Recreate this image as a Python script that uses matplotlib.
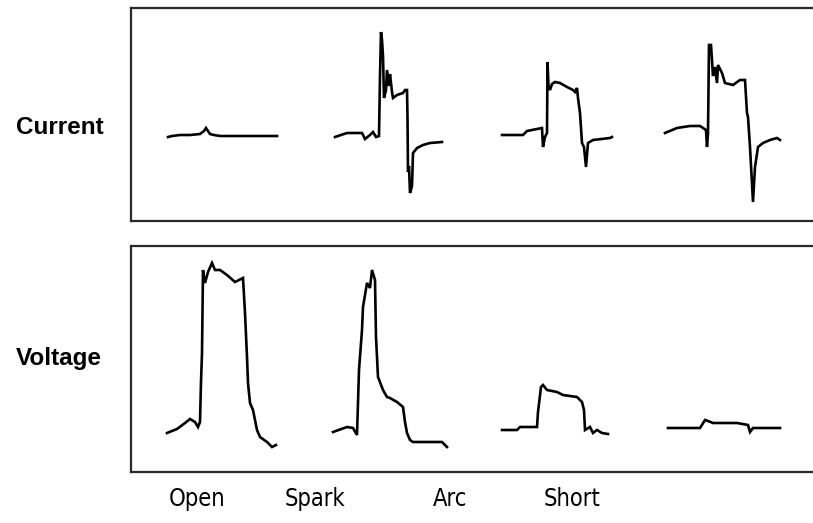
import matplotlib
matplotlib.use("Agg")
import matplotlib.pyplot as plt

W, H = 813, 523

cases = ["Open", "Spark", "Arc", "Short"]
panels = ["Current", "Voltage"]

# Current traces: (time, amplitude)
cur_open_t = [1, 5, 13, 23, 33, 37, 39, 41, 43, 47, 53, 110]
cur_open_v = [-1, 0, 1, 1, 2, 5, 8, 5, 2, 1, 0, 0]

cur_spark_t = [1, 13, 28, 31, 36, 39, 42, 45, 46, 47, 48, 49, 50, 52, 53, 55, 56, 58, 59, 63, 69, 71, 73, 73.5, 74, 75, 76, 78, 79, 83, 89, 96, 108]
cur_spark_v = [-1, 3, 3, -3, 1, 4, -1, 0, 60, 104, 96, 80, 38, 46, 66, 50, 62, 44, 38, 41, 43, 46, 46, 19, -36, -30, -57, -50, -17, -12, -9, -7, -6]

cur_arc_t = [0, 21, 25, 40, 41, 43, 45, 45.5, 46.5, 48, 50, 53, 58, 65, 71, 73, 75, 76, 78, 80, 82, 84, 86, 91, 108, 110]
cur_arc_v = [1, 1, 5, 8, -11, -1, 3, 74, 50, 46, 52, 54, 53, 49, 46, 44, 48, 38, 23, -7, -11, -31, -7, -4, -2, -1]

cur_short_t = [-1, 11, 24, 34, 40, 41, 42, 43, 45, 47, 49, 51, 52, 56, 59, 67, 74, 79, 81, 82, 84, 87, 89, 92, 97, 104, 111, 114]
cur_short_v = [3, 8, 10, 10, 6, -11, 3, 91, 91, 60, 69, 53, 71, 63, 53, 51, 56, 56, 23, 19, -11, -66, -31, -11, -7, -4, -2, -4]

# Voltage traces: (time, amplitude)
vol_open_t = [0, 10, 18, 23, 28, 31, 33, 34, 35, 36, 38, 41, 45, 48, 53, 60, 68, 76, 78, 80, 81, 83, 86, 90, 93, 100, 105, 109]
vol_open_v = [39, 43, 49, 53, 50, 45, 50, 90, 119, 202, 189, 200, 209, 202, 202, 197, 190, 194, 159, 115, 89, 69, 62, 42, 35, 30, 25, 27]

vol_spark_t = [-1, 13, 19, 23, 25, 28, 29, 33, 36, 38, 41, 42, 44, 49, 53, 56, 63, 69, 71, 73, 76, 79, 108, 113]
vol_spark_v = [40, 45, 44, 37, 102, 142, 165, 189, 184, 202, 192, 135, 95, 82, 75, 74, 70, 65, 50, 39, 32, 30, 30, 25]

vol_arc_t = [0, 15, 18, 35, 36, 39, 41, 45, 55, 61, 75, 80, 82, 83, 88, 91, 95, 100, 106]
vol_arc_v = [42, 42, 45, 45, 60, 85, 87, 82, 80, 77, 75, 70, 62, 42, 45, 39, 42, 39, 38]

vol_short_t = [2, 34, 39, 42, 47, 71, 82, 84, 87, 94, 114]
vol_short_v = [44, 44, 52, 51, 49, 49, 47, 40, 44, 44, 44]

current = [(cur_open_t, cur_open_v), (cur_spark_t, cur_spark_v),
           (cur_arc_t, cur_arc_v), (cur_short_t, cur_short_v)]
voltage = [(vol_open_t, vol_open_v), (vol_spark_t, vol_spark_v),
           (vol_arc_t, vol_arc_v), (vol_short_t, vol_short_v)]

# layout (pixels)
offsets = [167, 334, 502, 666]
X0 = 131

fig = plt.figure(figsize=(W / 100, H / 100), dpi=100)


def make_ax(top, bottom, ylim):
    ax = fig.add_axes([X0 / W, 1 - bottom / H, 1.02 - X0 / W, (bottom - top) / H])
    ax.set_xlim(X0, W * 1.02)
    ax.set_ylim(*ylim)
    ax.set_xticks([])
    ax.set_yticks([])
    for s in ["top", "bottom", "left"]:
        ax.spines[s].set_linewidth(1.6)
        ax.spines[s].set_color("#2a2a2a")
    ax.spines["right"].set_visible(False)
    return ax


ax1 = make_ax(7.5, 220.5, (-84.5, 128.5))
ax2 = make_ax(246, 471.5, (0.5, 226))

for (t, v), off in zip(current, offsets):
    ax1.plot([off + x for x in t], v, color="black", lw=1.9, solid_joinstyle="miter")
for (t, v), off in zip(voltage, offsets):
    ax2.plot([off + x for x in t], v, color="black", lw=1.9, solid_joinstyle="miter")

label_y = [128, 358]
for name, y in zip(panels, label_y):
    fig.text(16 / W, 1 - y / H, name, fontsize=17.5, fontweight="bold",
             family=["Liberation Sans", "DejaVu Sans"], ha="left", va="center")

label_x = [197, 315, 450, 572]
for name, x in zip(cases, label_x):
    fig.text(x / W, 1 - 499 / H, name, fontsize=17,
             family=["DejaVu Sans"], fontstretch="condensed",
             ha="center", va="center")

fig.savefig("out.png", dpi=100)
